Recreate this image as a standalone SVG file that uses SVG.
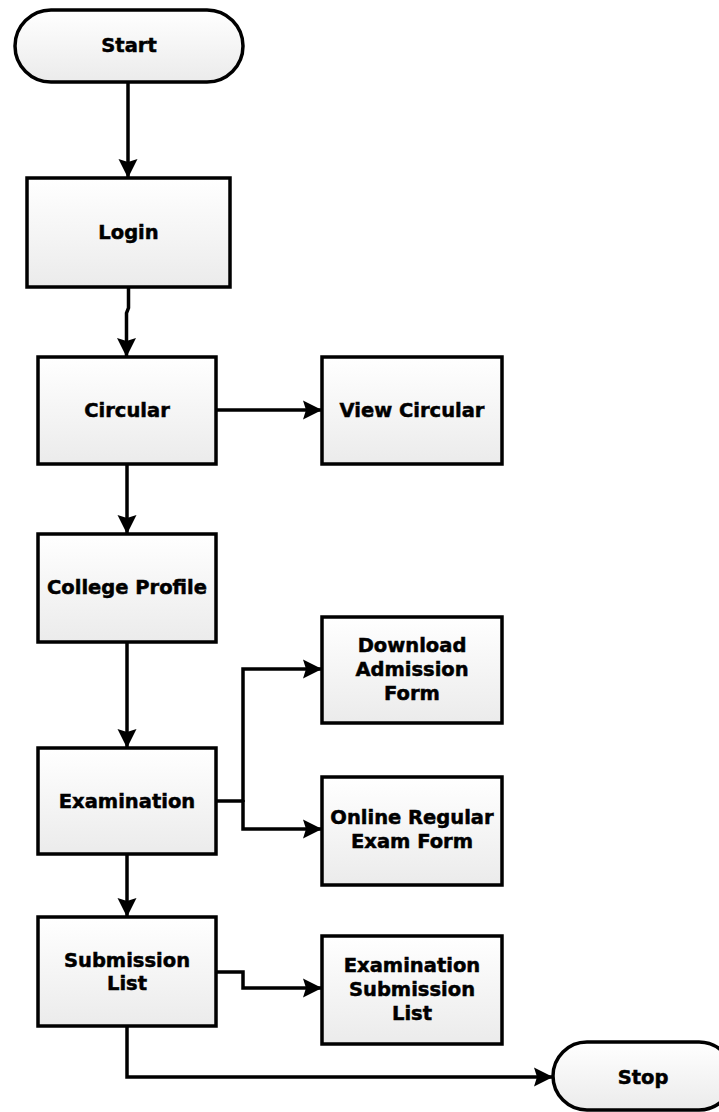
<svg xmlns="http://www.w3.org/2000/svg" width="719" height="1112" viewBox="0 0 719 1112">
<style>
.box{fill:url(#g);stroke:#000;stroke-width:3.5}
.t{font-family:"DejaVu Sans",sans-serif;font-weight:bold;font-size:19.5px;fill:#000;stroke:#000;stroke-width:0.5;text-anchor:middle}
.c{fill:none;stroke:#000;stroke-width:3.5;marker-end:url(#a)}
.n{fill:none;stroke:#000;stroke-width:3.5}
</style>
<defs>
<linearGradient id="g" x1="0" y1="0" x2="0" y2="1">
<stop offset="0" stop-color="#ffffff"/>
<stop offset="1" stop-color="#ebebeb"/>
</linearGradient>
<marker id="a" markerUnits="userSpaceOnUse" viewBox="0 0 20 20" markerWidth="20" markerHeight="20" refX="19" refY="10" orient="auto">
<path d="M0,0.5 L19,10 L0,19.5 L3,10 z" fill="#000"/>
</marker>
</defs>
<rect width="719" height="1112" fill="#fff"/>
<g id="connectors">
<path class="c" d="M128,82 V178"/>
<path class="c" d="M128.5,287 V308 L126.5,313 V357"/>
<path class="c" d="M216,410 H322"/>
<path class="c" d="M127,464 V534"/>
<path class="c" d="M127,642 V748"/>
<path class="n" d="M216,801 H243"/>
<path class="c" d="M243,802 V669 H322"/>
<path class="c" d="M243,800 V829 H322"/>
<path class="c" d="M127,854 V917"/>
<path class="c" d="M216,972 H243 V988 H322"/>
<path class="c" d="M127,1026 V1077 H553"/>
</g>
<g id="start">
<rect class="box" x="15" y="10" width="228" height="72" rx="36"/>
<text class="t" x="129" y="52">Start</text>
</g>
<g id="login">
<rect class="box" x="27" y="178" width="203" height="109"/>
<text class="t" x="128.5" y="239">Login</text>
</g>
<g id="circular">
<rect class="box" x="38" y="357" width="178" height="107"/>
<text class="t" x="127" y="417">Circular</text>
</g>
<g id="view-circular">
<rect class="box" x="322" y="357" width="180" height="107"/>
<text class="t" x="412" y="417">View Circular</text>
</g>
<g id="college-profile">
<rect class="box" x="38" y="534" width="178" height="108"/>
<text class="t" x="127" y="594">College Profile</text>
</g>
<g id="download-admission">
<rect class="box" x="322" y="617" width="180" height="106"/>
<text class="t" x="412" y="652">Download</text>
<text class="t" x="412" y="676">Admission</text>
<text class="t" x="412" y="700">Form</text>
</g>
<g id="examination">
<rect class="box" x="38" y="748" width="178" height="106"/>
<text class="t" x="127" y="808">Examination</text>
</g>
<g id="online-regular">
<rect class="box" x="322" y="777" width="180" height="108"/>
<text class="t" x="412" y="824">Online Regular</text>
<text class="t" x="412" y="848">Exam Form</text>
</g>
<g id="submission-list">
<rect class="box" x="38" y="917" width="178" height="109"/>
<text class="t" x="127" y="967">Submission</text>
<text class="t" x="127" y="990">List</text>
</g>
<g id="exam-submission-list">
<rect class="box" x="322" y="936" width="180" height="108"/>
<text class="t" x="412" y="972">Examination</text>
<text class="t" x="412" y="996">Submission</text>
<text class="t" x="412" y="1020">List</text>
</g>
<g id="stop">
<rect class="box" x="553" y="1042" width="180" height="68" rx="34"/>
<text class="t" x="643" y="1084">Stop</text>
</g>
</svg>
